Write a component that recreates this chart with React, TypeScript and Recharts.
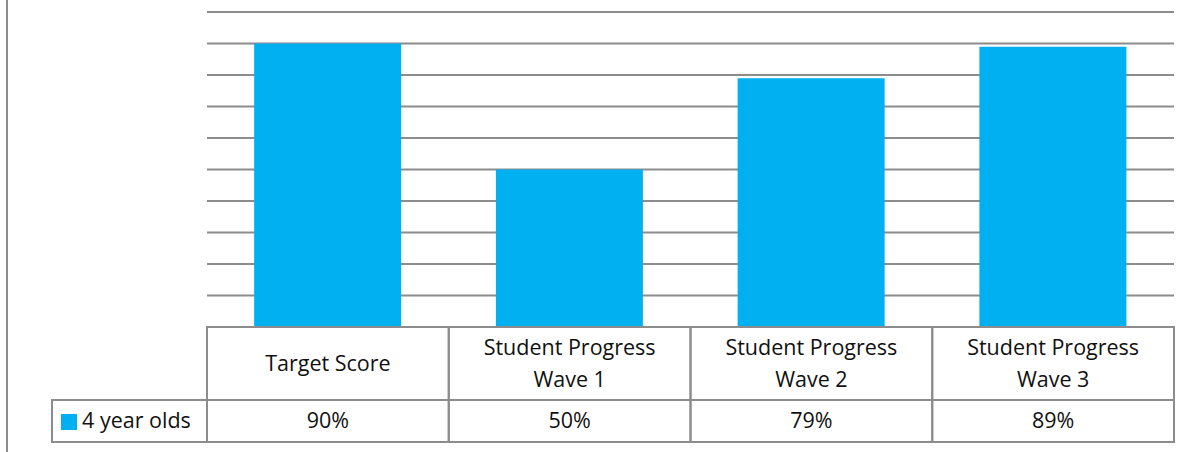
import React from "react";
import { BarChart, Bar, XAxis, YAxis, CartesianGrid } from "recharts";

const categories = ["Target Score", "Student Progress\nWave 1", "Student Progress\nWave 2", "Student Progress\nWave 3"];
const values = [90, 50, 79, 89];
const seriesName = "4 year olds";
const yTicks = [0, 10, 20, 30, 40, 50, 60, 70, 80, 90, 100];

const data = categories.map((c, i) => ({ name: c, value: values[i] }));

const W = 1196;
const H = 452;
const LEFT = 207;
const RIGHT = 22;
const TOP = 12;
const PLOT_BOTTOM = 327;
const ROW1 = 400;
const ROW2 = 442;
const COLOR = "#00B0F0";
const BORDER = "#8c8c8c";
const FONT = "'Open Sans', sans-serif";
const FS = 21.5;

const colW = (W - LEFT - RIGHT) / categories.length;

const TableTick = (props: any) => {
  const { x, payload, index } = props;
  const lines = String(payload.value).split("\n");
  const left = x - colW / 2;
  const headMid = (PLOT_BOTTOM + ROW1) / 2;
  return (
    <g>
      <rect x={left} y={PLOT_BOTTOM} width={colW} height={ROW1 - PLOT_BOTTOM} fill="none" stroke={BORDER} strokeWidth={2} />
      <rect x={left} y={ROW1} width={colW} height={ROW2 - ROW1} fill="none" stroke={BORDER} strokeWidth={2} />
      <text x={x} textAnchor="middle" fontFamily={FONT} fontSize={FS} fill="#111">
        {lines.map((l, i) => (
          <tspan key={i} x={x} y={headMid + 7 + (i - (lines.length - 1) / 2) * 32}>
            {l}
          </tspan>
        ))}
      </text>
      <text x={x} y={(ROW1 + ROW2) / 2 + 7} textAnchor="middle" fontFamily={FONT} fontSize={FS} fill="#111">
        {values[index]}%
      </text>
      {index === 0 && (
        <g>
          <rect x={52} y={ROW1} width={left - 52} height={ROW2 - ROW1} fill="none" stroke={BORDER} strokeWidth={2} />
          <rect x={61} y={414} width={16} height={16} fill={COLOR} />
          <text x={82} y={(ROW1 + ROW2) / 2 + 7} fontFamily={FONT} fontSize={FS} fill="#111">
            {seriesName}
          </text>
        </g>
      )}
    </g>
  );
};

export default function App() {
  return (
    <div style={{ position: "absolute", left: 0, top: 0, width: W, height: H, background: "#fff" }}>
      <div style={{ position: "absolute", left: 6, top: 0, width: 2, height: H, background: BORDER }} />
      <BarChart
        width={W}
        height={H}
        data={data}
        margin={{ top: TOP, right: RIGHT, left: LEFT, bottom: 0 }}
        barCategoryGap="19.5%"
      >
        <CartesianGrid horizontal vertical={false} stroke={BORDER} strokeWidth={2} />
        <YAxis hide domain={[0, 100]} ticks={yTicks} />
        <XAxis
          dataKey="name"
          height={H - PLOT_BOTTOM}
          axisLine={false}
          tickLine={false}
          tick={<TableTick />}
          interval={0}
        />
        <Bar dataKey="value" fill={COLOR} isAnimationActive={false} />
      </BarChart>
    </div>
  );
}
